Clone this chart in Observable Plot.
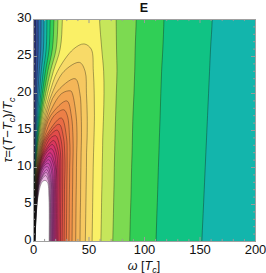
<!DOCTYPE html>
<html><head><meta charset="utf-8">
<script src="https://cdn.jsdelivr.net/npm/d3@7"></script>
<script src="https://cdn.jsdelivr.net/npm/@observablehq/plot@0.6"></script>
<style>body{margin:0;background:#fff;font-family:"Liberation Sans",Arial,sans-serif}</style>
</head><body><div id="chart"></div>
<script>
// τ rows at which the contour crossings were read
const tauRows = [0, 3, 6, 8, 10, 12, 14, 17, 20, 23, 26, 30];
// contour levels (band lower bounds) and band colours
const levels = [-4,-3,-2,-1,0,1,2,3,4,5,6,7,8,9,10,11,12,13,14,15,16,17,18,19,20,21,22,23,24,25,26,27];
const bandColors = ["#2D3270","#324B96","#2D6EAF","#2393B4","#13B5AC","#10C384","#30CF56","#7CDA51","#C6E65B","#FAF066",
  "#F8DA68","#F6C860","#F4B658","#F2A451","#EF924B","#EC7F47","#E96C45","#E65B46","#E24C49","#DE4051",
  "#DA375D","#D6336B","#D23379","#CE3587","#CA3B95","#C843A1","#CA50AE","#CF62BB","#D678C7","#DF93D3","#EAB4E2","#FFFFFF"];
// ω where the rising (left) flank crosses each level, from level -4 upward, one list per τ row
const leftFlank = [
  [0.10,0.14,0.18,0.22,0.26,0.30,0.34,0.38,0.42,0.46,0.50,0.54,0.58,0.62,0.66,0.70,0.74,0.78,0.82,0.86,0.90,0.94,0.98,1.02,1.06,1.10,1.14,1.18,1.22,1.26,1.30,1.34],
  [0.12,0.20,0.26,0.33,0.39,0.46,0.51,0.58,0.65,0.71,0.78,0.84,0.90,0.97,1.03,1.10,1.17,1.23,1.30,1.37,1.44,1.51,1.58,1.66,1.73,1.81,1.89,1.96,2.04,2.12,2.20,2.29],
  [0.19,0.29,0.39,0.50,0.59,0.70,0.80,0.90,1.00,1.10,1.21,1.31,1.42,1.53,1.64,1.75,1.86,1.98,2.10,2.21,2.33,2.46,2.58,2.71,2.85,2.99,3.14,3.29,3.44,3.62,3.78,3.98],
  [0.23,0.37,0.52,0.66,0.81,0.96,1.10,1.25,1.40,1.55,1.70,1.85,2.01,2.17,2.34,2.50,2.67,2.84,3.02,3.20,3.38,3.58,3.79,4.00,4.22,4.47,4.73,4.98,5.31,5.70,6.30,7.6],
  [0.29,0.51,0.74,0.96,1.19,1.42,1.65,1.88,2.11,2.35,2.59,2.84,3.10,3.35,3.61,3.89,4.17,4.46,4.78,5.10,5.44,5.81,6.22,6.66,7.16,7.79,8.57,10.2],
  [0.35,0.72,1.08,1.44,1.81,2.18,2.55,2.92,3.31,3.69,4.10,4.51,4.93,5.37,5.83,6.32,6.85,7.37,8.00,8.63,9.43,10.37,11.6],
  [0.38,0.91,1.44,1.97,2.51,3.05,3.59,4.15,4.73,5.32,5.92,6.56,7.24,7.97,8.73,9.60,10.52,11.67,13.11,15.45],
  [0.32,1.17,2.03,2.88,3.75,4.63,5.54,6.46,7.43,8.45,9.54,10.74,12.05,13.53,15.37,18.6],
  [0.09,1.37,2.65,3.93,5.22,6.56,7.92,9.37,10.92,12.62,14.49,16.68,19.8,25.4],
  [-1,1.63,3.40,5.16,6.97,8.84,10.78,12.88,15.24,17.89,21.6,27.5],
  [-2,1.90,4.21,6.56,8.93,11.40,14.05,17.0,20.37,24.0,36.0],
  [-3,1.8,4.2,6.8,9.4,12.1,15.0,18.4,22.0,26.0]
];
// ω where the falling (right) flank crosses each level, from level 1 upward, one list per τ row
const rightFlank = [
  [151.7,110.4,86.7,71.4,60.7,52.8,46.7,41.9,38.0,34.7,32.0,29.6,27.6,25.8,24.3,22.9,21.7,20.6,19.6,18.7,17.9,17.1,16.4,15.8,15.2,14.6,14.1],
  [152.6,111.0,87.2,71.9,61.1,53.1,47.0,42.1,38.2,34.9,32.2,29.8,27.8,26.0,24.4,23.1,21.8,20.7,19.7,18.8,18.0,17.2,16.5,15.9,15.3,14.7,14.2],
  [153.5,111.7,87.8,72.3,61.4,53.4,47.3,42.4,38.4,35.1,32.3,30.0,27.9,26.2,24.6,23.2,21.9,20.8,19.8,18.9,18.0,17.3,16.5,15.8,15.2,14.5,13.9],
  [154.1,112.1,88.1,72.6,61.7,53.6,47.5,42.5,38.6,35.3,32.5,30.1,28.0,26.3,24.7,23.3,22.0,20.87,19.85,18.96,17.95,17.1,16.2,15.4,14.5,13.7,12.6],
  [154.7,112.5,88.4,72.8,61.9,53.8,47.7,42.7,38.7,35.4,32.6,30.3,28.4,26.4,24.7,23.2,21.9,20.6,19.8,18.6,16.8,15.4,13.4],
  [155.3,113.0,88.8,73.1,62.2,54.1,47.8,42.9,38.9,35.7,32.9,30.3,28.1,26.2,24.3,22.5,20.6,18.6],
  [155.9,113.4,89.1,73.4,62.4,54.5,48.3,43.2,39.2,35.6,32.5,29.8,27.1,24.4,21.5],
  [156.8,114.1,89.6,74.0,63.1,54.9,48.4,43.0,38.4,34.1,30.5],
  [157.7,114.7,90.5,74.6,63.5,54.7,47.7,41.8,35.0],
  [158.6,115.4,91.2,75.2,63.2,53.9,46.5],
  [159.5,116.5,91.6,74.8,61.5,52.0],
  [161,117.5,92.5,74.5,59.5]
];
// top (apex) of each closed contour, levels 6..27
const apexLevel = [6,7,8,9,10,11,12,13,14,15,16,17,18,19,20,21,22,23,24,25,26,27];
const apexW = [45.5,41.5,37.5,33.5,30.0,27.3,25.0,23.0,21.3,19.8,18.2,17.0,15.9,15.0,14.3,13.7,13.0,12.4,11.9,11.4,10.9,10.2];
const apexTau = [26.7,24.2,22.0,20.35,19.0,17.8,16.7,15.85,15.05,14.3,13.65,13.1,12.55,11.99,11.52,11.05,10.58,10.11,9.71,9.33,8.9,8.25];
const xTicks = [0, 50, 100, 150, 200];
const yTicks = [0, 5, 10, 15, 20, 25, 30];

// contour outlines of each region "value >= level", ordered for painting
const pts = [];
levels.forEach((k, i) => {
  const L = [], R = [];
  tauRows.forEach((t, j) => {
    if (i < leftFlank[j].length) L.push([leftFlank[j][i], t]);
    if (k >= 1 && k - 1 < rightFlank[j].length) R.push([rightFlank[j][k - 1], t]);
  });
  const path = [[L[0][0], -3], ...L];
  const a = apexLevel.indexOf(k);
  if (a >= 0) path.push([apexW[a], apexTau[a]]);
  else {
    path.push([L[L.length - 1][0], 33]);
    if (R.length) path.push([R[R.length - 1][0], 33]);
    else path.push([260, 33], [260, -3]);
  }
  if (R.length) {
    const r0 = R[0][0];
    R.slice().reverse().forEach(p => path.push(p));
    path.push([r0, -3]);
  }
  path.forEach(([w, t]) => pts.push({level: k, w, t}));
});

const xMinor = d3.range(0, 201, 10).filter(v => v % 50);
const yMinor = d3.range(0, 31, 1).filter(v => v % 5);
const tickCol = "#9a9a9a";

const chart = Plot.plot({
  width: 266, height: 273,
  marginLeft: 33, marginRight: 11, marginTop: 19, marginBottom: 32,
  style: {fontFamily: "Liberation Sans, Arial, sans-serif", fontSize: "13px", background: "#fff", color: "#111"},
  x: {domain: [0, 200], axis: null},
  y: {domain: [0, 30], axis: null},
  color: {type: "ordinal", domain: levels, range: bandColors},
  marks: [
    Plot.frame({fill: "black", stroke: null}),
    Plot.line(pts, {x: "w", y: "t", z: "level", fill: "level", stroke: "none", curve: "catmull-rom", clip: true}),
    Plot.line(pts, {x: "w", y: "t", z: "level", stroke: "#111", strokeOpacity: 0.6, strokeWidth: 0.6, curve: "catmull-rom", clip: true}),
    Plot.ruleX(xTicks, {y1: 0, y2: 0.55, stroke: tickCol}),
    Plot.ruleX(xTicks, {y1: 30, y2: 29.45, stroke: tickCol}),
    Plot.ruleX(xMinor, {y1: 0, y2: 0.28, stroke: tickCol}),
    Plot.ruleX(xMinor, {y1: 30, y2: 29.72, stroke: tickCol}),
    Plot.ruleY(yTicks, {x1: 0, x2: 3.6, stroke: tickCol}),
    Plot.ruleY(yTicks, {x1: 200, x2: 196.4, stroke: tickCol}),
    Plot.ruleY(yMinor, {x1: 0, x2: 1.8, stroke: tickCol}),
    Plot.ruleY(yMinor, {x1: 200, x2: 198.2, stroke: tickCol}),
    Plot.frame({stroke: "#a0a0a0", strokeWidth: 1}),
    Plot.text(xTicks, {x: d => d, text: d => String(d), frameAnchor: "bottom", lineAnchor: "top", dy: 3, fontSize: 13, fill: "#111"}),
    Plot.text(yTicks, {y: d => d, text: d => String(d), frameAnchor: "left", textAnchor: "end", dx: -2, dy: -1.5, fontSize: 13, fill: "#111"})
  ]
});
document.getElementById("chart").appendChild(chart);

const svg = d3.select(chart);
svg.append("text").attr("x", 144).attr("y", 12).attr("text-anchor", "middle")
  .attr("font-weight", "bold").attr("font-size", 12.5).attr("fill", "#111").text("E");
const xl = svg.append("text").attr("x", 144).attr("y", 270).attr("text-anchor", "middle").attr("font-size", 12.5).attr("fill", "#111");
xl.append("tspan").attr("font-style", "italic").text("ω");
xl.append("tspan").text(" [");
xl.append("tspan").attr("font-style", "italic").text("T");
xl.append("tspan").attr("font-style", "italic").attr("font-size", 9).attr("dy", 2.5).text("c");
xl.append("tspan").attr("dy", -2.5).text("]");
const yl = svg.append("text").attr("transform", "translate(12,130) rotate(-90)").attr("text-anchor", "middle").attr("font-size", 13).attr("fill", "#111");
yl.append("tspan").attr("font-style", "italic").text("τ");
yl.append("tspan").text("=(");
yl.append("tspan").attr("font-style", "italic").text("T");
yl.append("tspan").text("−");
yl.append("tspan").attr("font-style", "italic").text("T");
yl.append("tspan").attr("font-style", "italic").attr("font-size", 9).attr("dy", 3).text("c");
yl.append("tspan").attr("dy", -3).text(")/");
yl.append("tspan").attr("font-style", "italic").text("T");
yl.append("tspan").attr("font-style", "italic").attr("font-size", 9).attr("dy", 3).text("c");
</script>
</body></html>
